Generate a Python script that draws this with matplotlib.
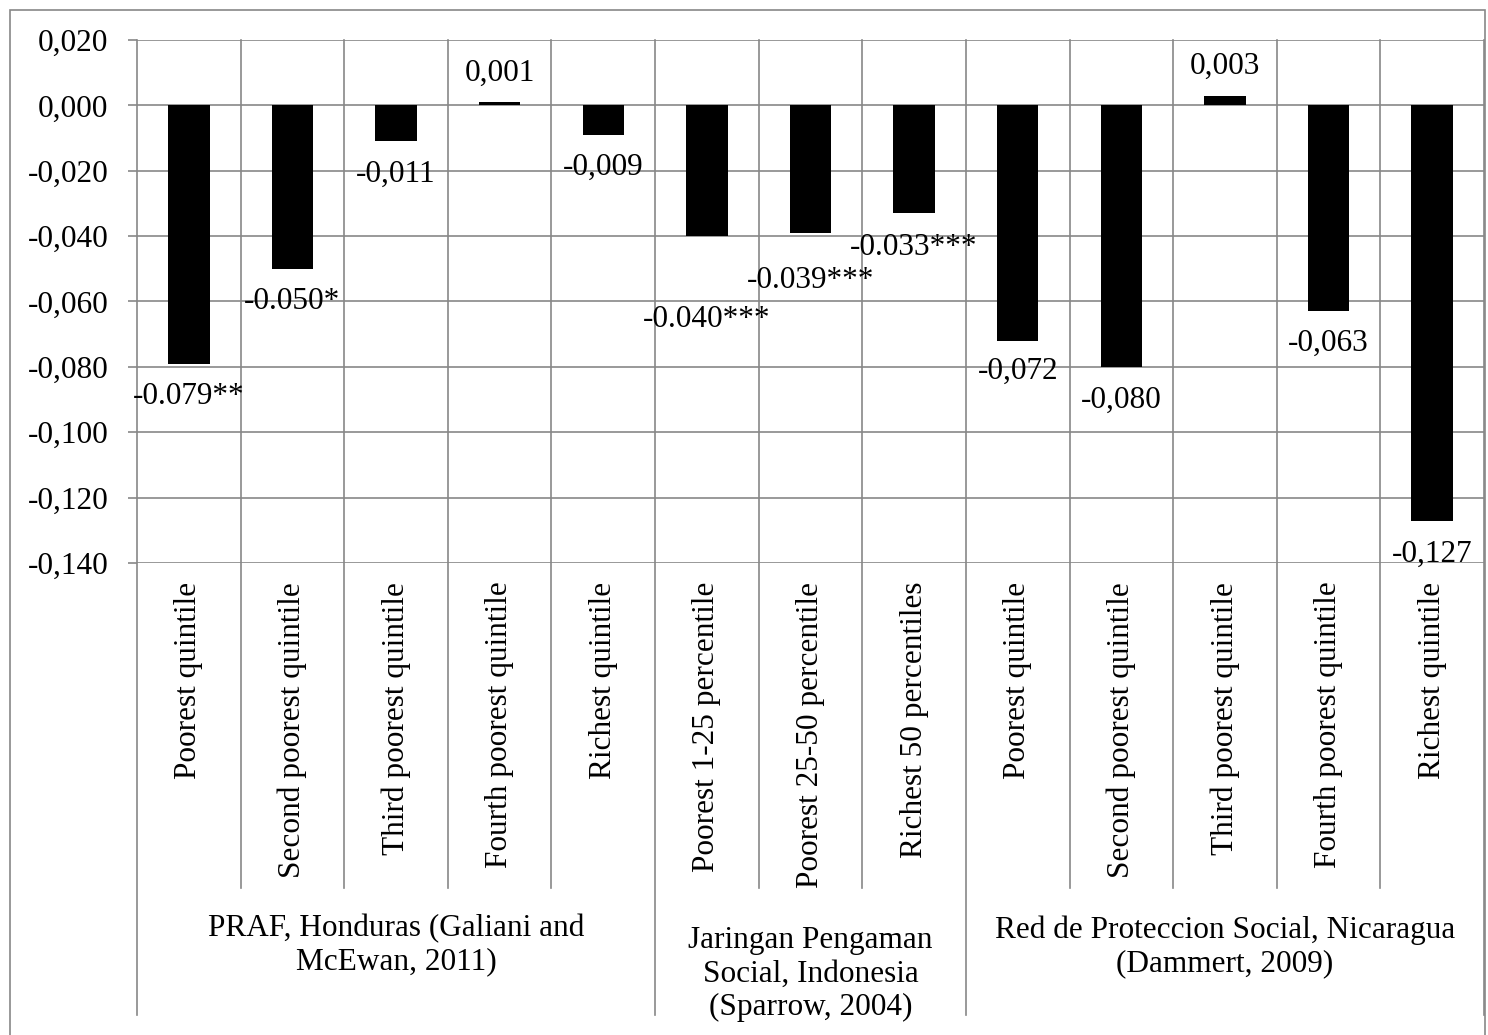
import matplotlib
matplotlib.use("Agg")
import matplotlib.pyplot as plt
from matplotlib.patches import Rectangle

categories = ["Poorest quintile", "Second poorest quintile", "Third poorest quintile",
              "Fourth poorest quintile", "Richest quintile",
              "Poorest 1-25 percentile", "Poorest 25-50 percentile", "Richest 50 percentiles",
              "Poorest quintile", "Second poorest quintile", "Third poorest quintile",
              "Fourth poorest quintile", "Richest quintile"]
values = [-0.079, -0.050, -0.011, 0.001, -0.009, -0.040, -0.039, -0.033,
          -0.072, -0.080, 0.003, -0.063, -0.127]
value_labels = ["-0.079**", "-0.050*", "-0,011", "0,001", "-0,009", "-0.040***",
                "-0.039***", "-0.033***", "-0,072", "-0,080", "0,003", "-0,063", "-0,127"]
label_gap_px = [33, 33, 33, 29, 33, 83, 48, 34, 31, 33, 29, 32, 34]
groups = ["PRAF, Honduras (Galiani and\nMcEwan, 2011)",
          "Jaringan Pengaman\nSocial, Indonesia\n(Sparrow, 2004)",
          "Red de Proteccion Social, Nicaragua\n(Dammert, 2009)"]
group_sizes = [5, 3, 5]
group_label_y_px = [945, 974, 947]
yticks = [0.020, 0.000, -0.020, -0.040, -0.060, -0.080, -0.100, -0.120, -0.140]
ytick_labels = ["0,020", "0,000", "-0,020", "-0,040", "-0,060", "-0,080",
                "-0,100", "-0,120", "-0,140"]

W, H = 1488, 1035
DPI = 100
plt.rcParams['font.family'] = ['Liberation Serif', 'DejaVu Serif']
FS = 22.5
GRID = '#878787'
LW = 1.2

fig = plt.figure(figsize=(W / DPI, H / DPI), dpi=DPI)
left, right, top, bottom = 137, 1484, 40, 563
ax = fig.add_axes([left / W, 1 - bottom / H, (right - left) / W, (bottom - top) / H])

x = list(range(len(values)))
ax.bar(x, values, width=0.4, color='black', zorder=3)

ax.set_xlim(-0.5, len(values) - 0.5)
ax.set_ylim(-0.14, 0.02)
ax.set_yticks(yticks)
ax.set_yticklabels(ytick_labels, fontsize=FS)
ax.tick_params(axis='y', length=6.5, width=LW, color=GRID, pad=14)
ax.set_xticks(x)
ax.set_xticklabels(categories, rotation=90, fontsize=FS)
ax.tick_params(axis='x', length=0, pad=13.5)

for s in ['top', 'right', 'bottom', 'left']:
    ax.spines[s].set_visible(False)

ax.grid(axis='y', color=GRID, linewidth=LW, zorder=1)

# vertical category separators
ax_h = bottom - top
y_cat_end = (bottom - 888) / ax_h
y_grp_end = (bottom - 1015) / ax_h
tr = ax.get_xaxis_transform()
bounds = [i - 0.5 for i in range(len(values) + 1)]
group_bounds = [-0.5]
acc = -0.5
for g in group_sizes:
    acc += g
    group_bounds.append(acc)
for b in bounds:
    end = y_grp_end if any(abs(b - gb) < 1e-9 for gb in group_bounds) else y_cat_end
    ax.plot([b, b], [1, end], transform=tr, color=GRID, lw=LW, clip_on=False, zorder=1)

# value labels
px2pt = 72 / DPI
for xi, v, lab, gap in zip(x, values, value_labels, label_gap_px):
    off = gap if v > 0 else -gap
    ax.annotate(lab, (xi, v), xytext=(0, off * px2pt), textcoords='offset points',
                ha='center', va='center', fontsize=FS, zorder=4)

# group labels
start = -0.5
for g, n, ypx in zip(groups, group_sizes, group_label_y_px):
    cx = start + n / 2
    yy = (bottom - ypx) / ax_h
    ax.text(cx, yy, g, transform=tr, ha='center', va='center', fontsize=FS,
            linespacing=1.22, clip_on=False)
    start += n

# outer border
fig.patches.append(Rectangle((10 / W, -0.1), (1485 - 10) / W, 1.1 - 10 / H,
                             transform=fig.transFigure, fill=False,
                             edgecolor=GRID, linewidth=LW))

fig.savefig('out.png', dpi=DPI)
